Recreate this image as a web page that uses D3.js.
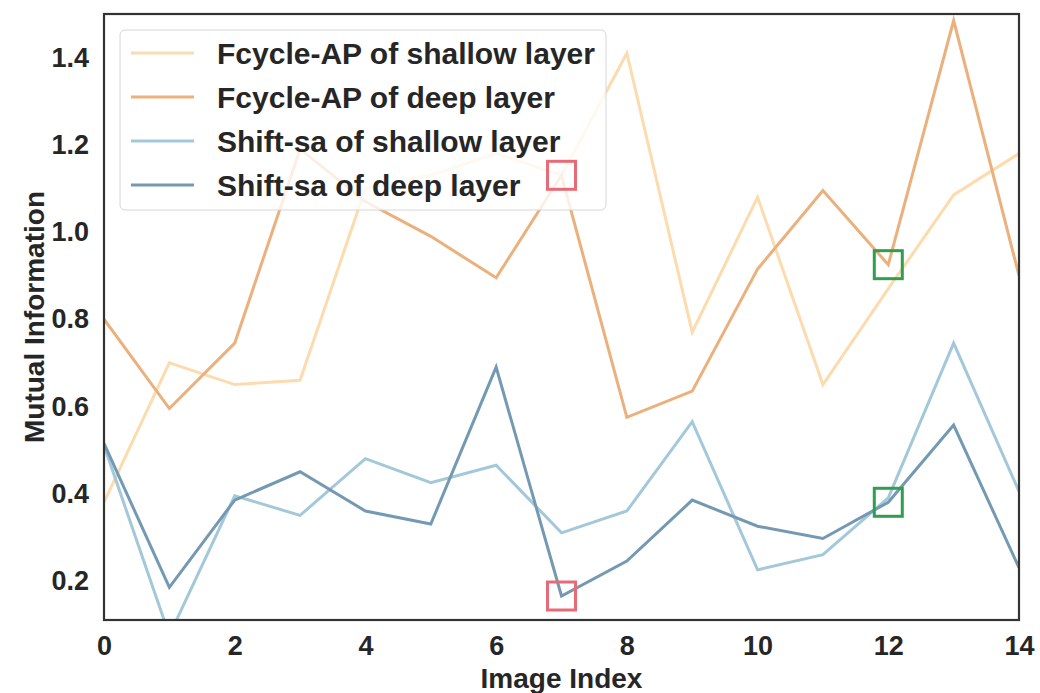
<!DOCTYPE html>
<html>
<head>
<meta charset="utf-8">
<script src="https://cdn.jsdelivr.net/npm/d3@7"></script>
<style>
  body { margin: 0; background: #fff; }
  svg text { font-family: "Liberation Sans", Arial, sans-serif; font-weight: bold; fill: #262626; }
</style>
</head>
<body>
<div id="chart"></div>
<script>
// values
var imageIndex = d3.range(0, 15);
var fcycleShallow = [0.38, 0.70, 0.65, 0.66, 1.10, 1.13, 1.18, 1.13, 1.41, 0.77, 1.08, 0.65, 0.87, 1.085, 1.18];
var fcycleDeep = [0.80, 0.595, 0.745, 1.19, 1.07, 0.99, 0.895, 1.13, 0.575, 0.635, 0.915, 1.095, 0.925, 1.485, 0.90];
var shiftShallow = [0.51, 0.075, 0.395, 0.35, 0.48, 0.425, 0.465, 0.31, 0.36, 0.565, 0.225, 0.26, 0.39, 0.745, 0.405];
var shiftDeep = [0.515, 0.185, 0.385, 0.45, 0.36, 0.33, 0.69, 0.165, 0.245, 0.385, 0.325, 0.297, 0.38, 0.557, 0.23];
var seriesNames = ["Fcycle-AP of shallow layer", "Fcycle-AP of deep layer", "Shift-sa of shallow layer", "Shift-sa of deep layer"];
var seriesColors = ["#fcdcae", "#ebb07c", "#a3c8da", "#7499b3"];
var xTicks = [0, 2, 4, 6, 8, 10, 12, 14];
var yTicks = [0.2, 0.4, 0.6, 0.8, 1.0, 1.2, 1.4];
// highlight boxes: which series, which index, colour
var marks = [
  { s: 1, i: 7, c: "#e86a76" },
  { s: 3, i: 7, c: "#e86a76" },
  { s: 1, i: 12, c: "#2f9e4e" },
  { s: 3, i: 12, c: "#2f9e4e" }
];

var allSeries = [fcycleShallow, fcycleDeep, shiftShallow, shiftDeep];

var margin = { top: 14, right: 21, bottom: 73, left: 104 },
    width = 1040 - margin.left - margin.right,
    height = 693 - margin.top - margin.bottom;

var svg = d3.select("#chart")
    .append("svg")
    .attr("width", 1040)
    .attr("height", 693)
    .append("g")
    .attr("transform", "translate(" + margin.left + "," + margin.top + ")");

var x = d3.scaleLinear().domain([0, 14]).range([0, width]);
var y = d3.scaleLinear().domain([0.11, 1.5]).range([height, 0]);

svg.append("clipPath")
    .attr("id", "plotclip")
    .append("rect")
    .attr("width", width)
    .attr("height", height);

var line = d3.line()
    .x(function(d, i) { return x(imageIndex[i]); })
    .y(function(d) { return y(d); });

svg.append("g")
    .attr("clip-path", "url(#plotclip)")
    .selectAll("path")
    .data(allSeries)
    .enter()
    .append("path")
    .attr("d", line)
    .attr("fill", "none")
    .attr("stroke", function(d, i) { return seriesColors[i]; })
    .attr("stroke-width", 3)
    .attr("stroke-linejoin", "miter");

// axes
var xAxis = svg.append("g")
    .attr("transform", "translate(0," + height + ")")
    .call(d3.axisBottom(x).tickValues(xTicks).tickSize(0).tickPadding(16).tickFormat(d3.format("d")));
xAxis.select(".domain").remove();
xAxis.selectAll("text").style("font-size", "27px");

var yAxis = svg.append("g")
    .call(d3.axisLeft(y).tickValues(yTicks).tickSize(0).tickPadding(15).tickFormat(d3.format(".1f")));
yAxis.select(".domain").remove();
yAxis.selectAll("text").style("font-size", "27px");

// frame
svg.append("rect")
    .attr("width", width)
    .attr("height", height)
    .attr("fill", "none")
    .attr("stroke", "#333")
    .attr("stroke-width", 2.2);

svg.append("text")
    .attr("x", width / 2)
    .attr("y", 674)
    .attr("text-anchor", "middle")
    .style("font-size", "28px")
    .text("Image Index");

svg.append("text")
    .attr("transform", "translate(" + (44 - margin.left) + "," + (height / 2) + ") rotate(-90)")
    .attr("text-anchor", "middle")
    .style("font-size", "28px")
    .text("Mutual Information");

// legend
var legend = svg.append("g").attr("transform", "translate(16,16)");
legend.append("rect")
    .attr("width", 486)
    .attr("height", 180)
    .attr("rx", 5)
    .attr("fill", "#fff")
    .attr("fill-opacity", 0.8)
    .attr("stroke", "#d6d6d6")
    .attr("stroke-width", 1);

var rows = legend.selectAll(".row")
    .data(seriesNames)
    .enter()
    .append("g")
    .attr("transform", function(d, i) { return "translate(0," + (23 + i * 44) + ")"; });
rows.append("line")
    .attr("x1", 11).attr("x2", 74)
    .attr("stroke", function(d, i) { return seriesColors[i]; })
    .attr("stroke-width", 3);
rows.append("text")
    .attr("x", 97)
    .attr("dy", "0.36em")
    .style("font-size", "30px")
    .text(function(d) { return d; });

// highlight squares
svg.selectAll(".mark")
    .data(marks)
    .enter()
    .append("rect")
    .attr("x", function(d) { return x(imageIndex[d.i]) - 14; })
    .attr("y", function(d) { return y(allSeries[d.s][d.i]) - 14; })
    .attr("width", 28)
    .attr("height", 28)
    .attr("fill", "none")
    .attr("stroke", function(d) { return d.c; })
    .attr("stroke-width", 3);
</script>
</body>
</html>
